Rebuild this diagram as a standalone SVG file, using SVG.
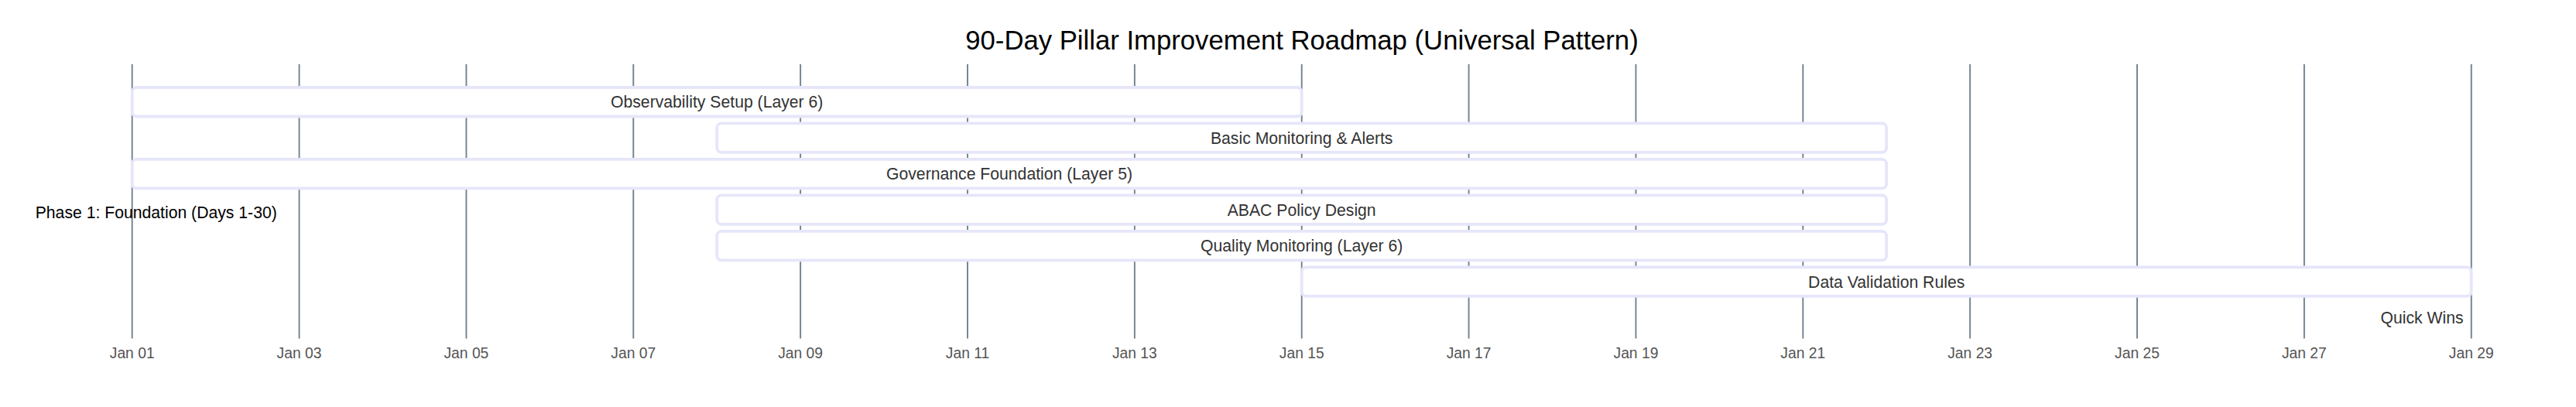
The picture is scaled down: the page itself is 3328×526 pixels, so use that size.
<svg xmlns="http://www.w3.org/2000/svg" width="3328" height="526" viewBox="0 0 3328 526">
<style>
text{font-family:"Liberation Sans",Arial,Helvetica,sans-serif}
.title{font-size:34.7px;fill:#000;text-anchor:middle}
.grid{stroke:#6f8290;stroke-width:1.9}
.tick{font-size:19.3px;fill:#555;text-anchor:middle}
.task{fill:#fff;stroke:#e6e6fa;stroke-width:3.8}
.tt{font-size:21.2px;fill:#333;text-anchor:middle}
.tto{font-size:21.2px;fill:#333;text-anchor:end}
.sec{font-size:21.2px;fill:#000}
</style>
<rect width="3328" height="526" fill="#fff"/>
<text class="title" x="1682" y="64">90-Day Pillar Improvement Roadmap (Universal Pattern)</text>
<g id="grid">
<line class="grid" x1="170.7" y1="83" x2="170.7" y2="437.5"/>
<line class="grid" x1="386.56" y1="83" x2="386.56" y2="437.5"/>
<line class="grid" x1="602.42" y1="83" x2="602.42" y2="437.5"/>
<line class="grid" x1="818.28" y1="83" x2="818.28" y2="437.5"/>
<line class="grid" x1="1034.14" y1="83" x2="1034.14" y2="437.5"/>
<line class="grid" x1="1250" y1="83" x2="1250" y2="437.5"/>
<line class="grid" x1="1465.86" y1="83" x2="1465.86" y2="437.5"/>
<line class="grid" x1="1681.72" y1="83" x2="1681.72" y2="437.5"/>
<line class="grid" x1="1897.58" y1="83" x2="1897.58" y2="437.5"/>
<line class="grid" x1="2113.44" y1="83" x2="2113.44" y2="437.5"/>
<line class="grid" x1="2329.3" y1="83" x2="2329.3" y2="437.5"/>
<line class="grid" x1="2545.16" y1="83" x2="2545.16" y2="437.5"/>
<line class="grid" x1="2761.02" y1="83" x2="2761.02" y2="437.5"/>
<line class="grid" x1="2976.88" y1="83" x2="2976.88" y2="437.5"/>
<line class="grid" x1="3192.74" y1="83" x2="3192.74" y2="437.5"/>
</g>
<g id="axis">
<text class="tick" x="170.7" y="463">Jan 01</text>
<text class="tick" x="386.56" y="463">Jan 03</text>
<text class="tick" x="602.42" y="463">Jan 05</text>
<text class="tick" x="818.28" y="463">Jan 07</text>
<text class="tick" x="1034.14" y="463">Jan 09</text>
<text class="tick" x="1250" y="463">Jan 11</text>
<text class="tick" x="1465.86" y="463">Jan 13</text>
<text class="tick" x="1681.72" y="463">Jan 15</text>
<text class="tick" x="1897.58" y="463">Jan 17</text>
<text class="tick" x="2113.44" y="463">Jan 19</text>
<text class="tick" x="2329.3" y="463">Jan 21</text>
<text class="tick" x="2545.16" y="463">Jan 23</text>
<text class="tick" x="2761.02" y="463">Jan 25</text>
<text class="tick" x="2976.88" y="463">Jan 27</text>
<text class="tick" x="3192.74" y="463">Jan 29</text>
</g>
<g id="section-phase1">
<text class="sec" x="45.7" y="281.5">Phase 1: Foundation (Days 1-30)</text>
</g>
<g id="task-observability">
<rect class="task" x="170.7" y="113" width="1511" height="37.5" rx="6"/>
<text class="tt" x="926.2" y="139.2">Observability Setup (Layer 6)</text>
</g>
<g id="task-basic-monitoring">
<rect class="task" x="926.2" y="159.46" width="1511" height="37.5" rx="6"/>
<text class="tt" x="1681.7" y="185.6">Basic Monitoring &amp; Alerts</text>
</g>
<g id="task-governance">
<rect class="task" x="170.7" y="205.92" width="2266.5" height="37.5" rx="6"/>
<text class="tt" x="1304" y="232.1">Governance Foundation (Layer 5)</text>
</g>
<g id="task-abac">
<rect class="task" x="926.2" y="252.38" width="1511" height="37.5" rx="6"/>
<text class="tt" x="1681.7" y="278.5">ABAC Policy Design</text>
</g>
<g id="task-quality">
<rect class="task" x="926.2" y="298.84" width="1511" height="37.5" rx="6"/>
<text class="tt" x="1681.7" y="325">Quality Monitoring (Layer 6)</text>
</g>
<g id="task-data-validation">
<rect class="task" x="1681.7" y="345.3" width="1511" height="37.5" rx="6"/>
<text class="tt" x="2437.2" y="371.5">Data Validation Rules</text>
</g>
<g id="task-quick-wins">
<text class="tto" x="3182.7" y="417.9">Quick Wins</text>
</g>
<g id="connectors"/>
</svg>
